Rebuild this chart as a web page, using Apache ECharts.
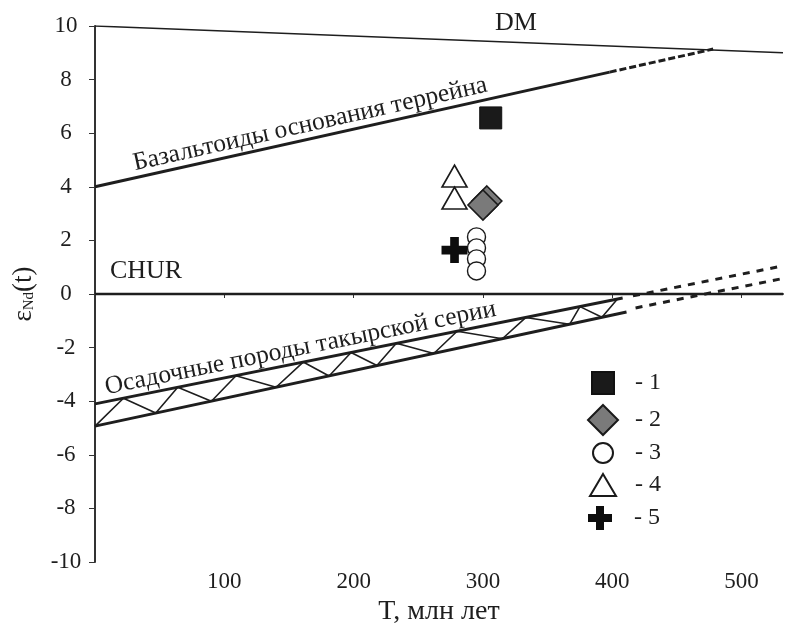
<!DOCTYPE html>
<html>
<head>
<meta charset="utf-8">
<script src="https://cdn.jsdelivr.net/npm/echarts@6/dist/echarts.min.js"></script>
<style>
  html, body { margin: 0; padding: 0; background: #fff; }
  #chart { width: 785px; height: 633px; }
</style>
</head>
<body>
<div id="chart"></div>
<script>
// model lines [T, eps]
const dmLine = [[0, 10], [532, 9.0]];
const basaltSolid = [[0, 4.0], [398, 8.28]];
const basaltDashed = [[398, 8.28], [478, 9.14]];
const churLine = [[0, 0], [532, 0]];
const sedUpper = [[0, -4.1], [408, -0.15]];
const sedLower = [[0, -4.93], [411, -0.67]];
const sedUpperDashed = [[416, -0.07], [532, 1.05]];
const sedLowerDashed = [[418, -0.52], [532, 0.58]];
const sedZigzag = [
  [0, -4.93], [22, -3.89], [47, -4.44], [64, -3.48], [90, -4.0], [109, -3.05],
  [140, -3.48], [161, -2.54], [181, -3.06], [198, -2.18], [218, -2.67], [233, -1.84],
  [262, -2.22], [280, -1.39], [315, -1.67], [333, -0.88], [367, -1.13], [375, -0.47],
  [392, -0.87], [404, -0.19]
];

// samples
const group1 = [[306, 6.57]];
const group2 = [[303, 3.47], [300, 3.32]];
const group3 = [[295, 2.13], [295, 1.72], [295, 1.31], [295, 0.86]];
const group4 = [[278, 4.4], [278, 3.58]];
const group5 = [[278, 1.64]];

const groupNames = ["1", "2", "3", "4", "5"];
const xTicks = [100, 200, 300, 400, 500];

const serif = "Liberation Serif";
const ink = "#1e1e1e";
const crossPath = "path://M8,0H16V8H24V16H16V24H8V16H0V8H8Z";

function lineSeries(data, width, dash) {
  return {
    type: "line",
    data: data,
    showSymbol: false,
    silent: true,
    z: 1,
    lineStyle: { color: ink, width: width, type: dash || "solid", opacity: 1 },
  };
}

function legendFor(name, cx, cy, w, h) {
  return {
    data: [name],
    left: cx - w / 2,
    top: cy - h / 2,
    padding: 0,
    itemWidth: w,
    itemHeight: h,
    selectedMode: false,
    formatter: "- {name}",
    textStyle: {
      fontFamily: serif,
      fontSize: 24,
      color: ink,
      padding: [0, 0, 0, 634 - (cx + w / 2 + 5)],
    },
  };
}

const chart = echarts.init(document.getElementById("chart"));

const option = {
  animation: false,
  backgroundColor: "#fff",
  grid: { left: 95, right: 2, top: 26, bottom: 71 },
  xAxis: {
    type: "value",
    min: 0,
    max: 532,
    interval: 100,
    name: "T, млн лет",
    nameLocation: "middle",
    nameGap: 26,
    nameTextStyle: { fontFamily: serif, fontSize: 28, color: ink },
    axisLine: { show: true, lineStyle: { color: "#333", width: 2 } },
    axisTick: { show: true, length: 4, lineStyle: { color: "#333", width: 1 } },
    axisLabel: {
      fontFamily: serif,
      fontSize: 23,
      color: ink,
      margin: 8,
      showMinLabel: false,
      showMaxLabel: false,
      formatter: (v) => (xTicks.indexOf(v) >= 0 ? String(v) : ""),
    },
    splitLine: { show: false },
  },
  yAxis: {
    type: "value",
    min: -10,
    max: 10,
    interval: 2,
    name: "{e|ε}{s|Nd}{e|(t)}",
    nameLocation: "middle",
    nameRotate: 90,
    nameGap: 58,
    nameTextStyle: {
      rich: {
        e: { fontFamily: serif, fontSize: 27, color: ink },
        s: { fontFamily: serif, fontSize: 15, color: ink, padding: [12, 0, 0, 0] },
      },
    },
    axisLine: { show: true, lineStyle: { color: "#333", width: 2 } },
    axisTick: { show: true, length: 6, lineStyle: { color: "#333", width: 1 } },
    axisLabel: {
      fontFamily: serif,
      fontSize: 23,
      color: ink,
      align: "center",
      margin: 29,
    },
    splitLine: { show: false },
  },
  legend: [
    legendFor("1", 602, 382, 22, 22),
    legendFor("2", 602, 419, 30, 30),
    legendFor("3", 602, 451, 20, 20),
    legendFor("4", 602, 484, 26, 22),
    legendFor("5", 600, 518, 24, 24),
  ],
  graphic: [
    {
      type: "text",
      x: 516, y: 23,
      style: { text: "DM", font: "26px 'Liberation Serif'", fill: ink, align: "center", verticalAlign: "middle" },
    },
    {
      type: "text",
      x: 146, y: 271,
      style: { text: "CHUR", font: "26px 'Liberation Serif'", fill: ink, align: "center", verticalAlign: "middle" },
    },
    {
      type: "text",
      x: 313, y: 137,
      rotation: 12.6 * Math.PI / 180,
      style: {
        text: "Базальтоиды основания террейна",
        font: "25.5px 'Liberation Serif'", fill: ink, align: "center", verticalAlign: "bottom",
      },
    },
    {
      type: "text",
      x: 303, y: 361,
      rotation: 11.4 * Math.PI / 180,
      style: {
        text: "Осадочные породы такырской серии",
        font: "25.5px 'Liberation Serif'", fill: ink, align: "center", verticalAlign: "bottom",
      },
    },
  ],
  series: [
    lineSeries(dmLine, 1.6),
    lineSeries(basaltSolid, 3),
    lineSeries(basaltDashed, 3, [7, 3]),
    lineSeries(churLine, 2.6),
    lineSeries(sedUpper, 3),
    lineSeries(sedLower, 3),
    lineSeries(sedUpperDashed, 3, [7, 7]),
    lineSeries(sedLowerDashed, 3, [7, 7]),
    lineSeries(sedZigzag, 1.6),
    {
      name: groupNames[0],
      type: "scatter",
      data: group1,
      symbol: "rect",
      symbolSize: 22,
      z: 5,
      itemStyle: { color: "#1a1a1a", borderColor: "#111", borderWidth: 1, opacity: 1 },
    },
    {
      name: groupNames[1],
      type: "scatter",
      data: group2,
      symbol: "diamond",
      symbolSize: 30,
      z: 5,
      itemStyle: { color: "#7a7a7a", borderColor: "#1a1a1a", borderWidth: 1.6, opacity: 1 },
    },
    {
      name: groupNames[2],
      type: "scatter",
      data: group3,
      symbol: "circle",
      symbolSize: 18,
      z: 5,
      itemStyle: { color: "#fff", borderColor: "#1a1a1a", borderWidth: 1.4, opacity: 1 },
    },
    {
      name: groupNames[3],
      type: "scatter",
      data: group4,
      symbol: "triangle",
      symbolSize: [25, 22],
      z: 5,
      itemStyle: { color: "#fff", borderColor: "#1a1a1a", borderWidth: 1.6, opacity: 1 },
    },
    {
      name: groupNames[4],
      type: "scatter",
      data: group5,
      symbol: crossPath,
      symbolSize: 26,
      z: 6,
      itemStyle: { color: "#0d0d0d", borderWidth: 0, opacity: 1 },
    },
  ],
};

chart.setOption(option);
</script>
</body>
</html>
